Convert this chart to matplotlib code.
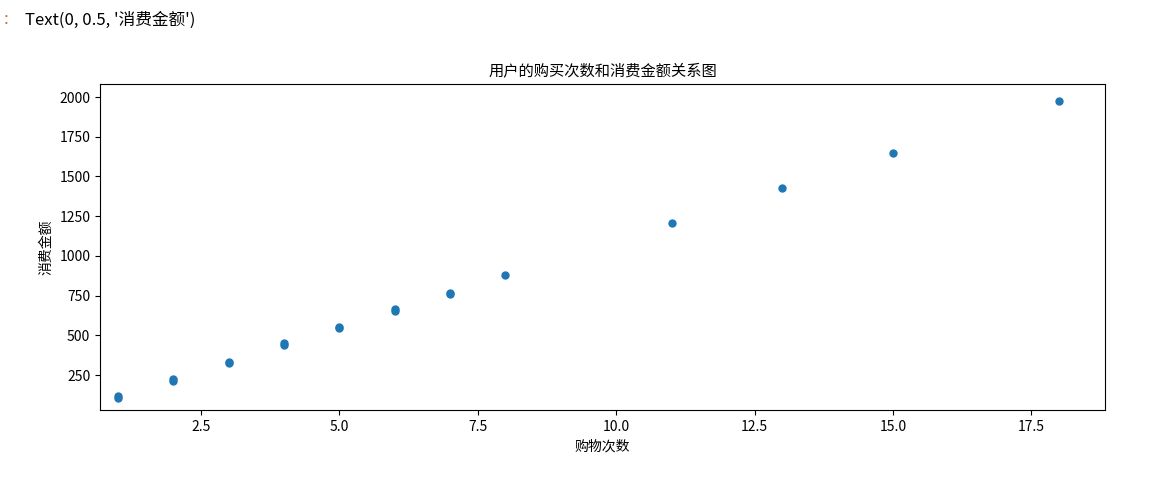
import matplotlib
matplotlib.use("Agg")
import matplotlib.pyplot as plt

plt.rcParams['font.family'] = ['Noto Sans CJK SC', 'DejaVu Sans']
plt.rcParams['axes.unicode_minus'] = False

orders = [1, 1, 2, 2, 3, 3, 4, 4, 5, 5, 6, 6, 7, 7, 8, 11, 13, 15, 18]
amounts = [108, 116, 215, 224, 326, 334, 440, 449, 544, 552, 656, 663, 762, 768, 878, 1210, 1425, 1645, 1975]

fig = plt.figure(figsize=(11.61, 4.84), dpi=100)
ax = fig.add_axes([100/1161, 1-410/484, 1005/1161, 326/484])
ax.scatter(orders, amounts, s=25, color='#1f77b4')
ax.set_xlim(0.675, 18.83)
ax.set_ylim(30, 2082)
ax.set_xticks([2.5, 5.0, 7.5, 10.0, 12.5, 15.0, 17.5])
ax.set_yticks([250, 500, 750, 1000, 1250, 1500, 1750, 2000])
ax.tick_params(labelsize=10)
ax.set_title('用户的购买次数和消费金额关系图', fontsize=11)
ax.set_xlabel('购物次数', fontsize=10)
ax.set_ylabel('消费金额', fontsize=10)

fig.text(0.003, 1-20/484, ':', color='#d2691e', fontsize=12, va='center')
fig.text(25/1161, 1-20/484, "Text(0, 0.5, '消费金额')", fontsize=12, va='center',
         family=['Noto Sans CJK SC', 'DejaVu Sans'])
fig.savefig('out.png', dpi=100)
